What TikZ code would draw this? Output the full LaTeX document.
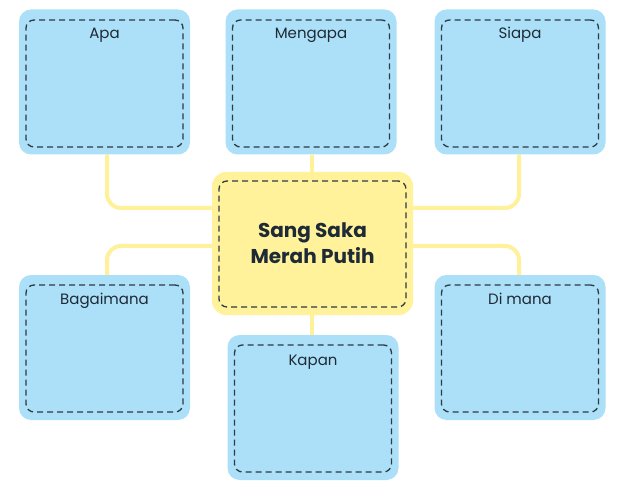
\documentclass[tikz,border=0pt]{standalone}
\usepackage{fontspec}
\setmainfont{Poppins}
\usetikzlibrary{backgrounds}
\definecolor{boxblue}{HTML}{ABE0F8}
\definecolor{boxyellow}{HTML}{FFF29A}
\definecolor{linec}{HTML}{FFF09A}
\definecolor{dashc}{HTML}{2E3A44}
\definecolor{txt}{HTML}{1E2A36}
\tikzset{
  outerbox/.style={rounded corners=12pt, fill=boxblue, minimum width=171pt, minimum height=145pt, inner sep=0pt},
  centerbox/.style={rounded corners=14pt, fill=boxyellow, minimum width=201pt, minimum height=143pt, inner sep=0pt},
  innerbox/.style={rounded corners=8pt, draw=dashc, dash pattern=on 6pt off 4pt, line width=1.3pt, minimum width=157pt, minimum height=127pt, inner sep=0pt},
  lbl/.style={font=\fontsize{15}{18}\selectfont, text=txt, inner sep=0pt, anchor=base},
  conn/.style={draw=linec, line width=4pt, rounded corners=14pt}
}
\begin{document}
\begin{tikzpicture}[x=1pt,y=-1pt]
\useasboundingbox (0,0) rectangle (640,489);
\coordinate (c1) at (107,208);
\coordinate (c3) at (519,208);
\coordinate (c4) at (107,246);
\coordinate (c6) at (519,246);
\coordinate (cx) at (312,0);
% boxes
\node[outerbox] (apa) at (104.5,82) {};
\node[outerbox] (mengapa) at (311,82) {};
\node[outerbox] (siapa) at (520,82) {};
\node[outerbox] (bagaimana) at (104.5,347.5) {};
\node[outerbox] (dimana) at (520,347.5) {};
\node[outerbox] (kapan) at (313,407.5) {};
\node[centerbox] (center) at (312.5,243.5) {};
% connectors
\begin{scope}[on background layer]
\draw[conn] (apa.south -| c1) -- (c1) -- (c1 -| center.west);
\draw[conn] (siapa.south -| c3) -- (c3) -- (c3 -| center.east);
\draw[conn] (bagaimana.north -| c4) -- (c4) -- (c4 -| center.west);
\draw[conn] (dimana.north -| c6) -- (c6) -- (c6 -| center.east);
\draw[conn] (mengapa.south -| cx) -- (center.north -| cx);
\draw[conn] (center.south -| cx) -- (kapan.north -| cx);
\end{scope}
% inner dashed frames
\node[innerbox] (apaIn) at (104.5,83.5) {};
\node[innerbox] (mengapaIn) at (311,83.5) {};
\node[innerbox] (siapaIn) at (520,83.5) {};
\node[innerbox] (bagaimanaIn) at (104.5,348.5) {};
\node[innerbox] (dimanaIn) at (520,348.5) {};
\node[innerbox] (kapanIn) at (313,408.5) {};
\node[innerbox, minimum width=187pt, minimum height=126pt] (centerIn) at (312.5,244) {};
% labels
\node[lbl] (apaL) at (104.5,39) {Apa};
\node[lbl] (mengapaL) at (311,39) {Mengapa};
\node[lbl] (siapaL) at (520,39) {Siapa};
\node[lbl] (bagaimanaL) at (104.5,304) {Bagaimana};
\node[lbl] (dimanaL) at (520,304) {Di mana};
\node[lbl] (kapanL) at (313,365) {Kapan};
\node[font=\fontsize{20}{26}\selectfont\bfseries, text=txt, align=center] (centerL) at (312.5,243) {Sang Saka\\Merah Putih};
\end{tikzpicture}
\end{document}
